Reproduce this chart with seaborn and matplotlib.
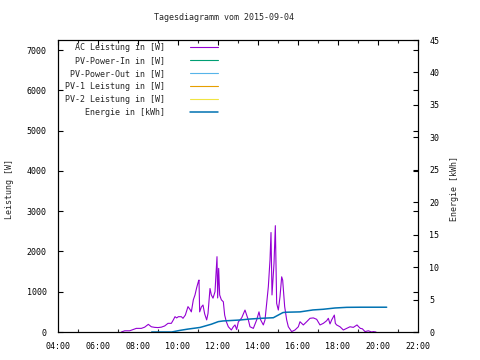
import matplotlib
matplotlib.use("Agg")
import matplotlib.pyplot as plt
import seaborn as sns
import pandas as pd
import numpy as np
from matplotlib.ticker import MultipleLocator, FixedLocator

# ---------------- data ----------------
ac_times = ["07:10", "07:20", "07:35", "07:45", "07:55", "08:10", "08:20", "08:31", "08:40", "08:50",
            "09:00", "09:10", "09:20", "09:30", "09:40", "09:46", "09:51", "09:56", "10:01", "10:10",
            "10:15", "10:22", "10:30", "10:36", "10:40", "10:46", "10:51", "10:56", "11:01", "11:03",
            "11:05", "11:10", "11:15", "11:20", "11:26", "11:30", "11:36", "11:40", "11:45", "11:51",
            "11:57", "11:59", "12:02", "12:05", "12:10", "12:16", "12:20", "12:25", "12:31", "12:40",
            "12:46", "12:51", "12:56", "13:01", "13:06", "13:11", "13:21", "13:26", "13:31", "13:36",
            "13:46", "13:56", "14:03", "14:08", "14:16", "14:21", "14:26", "14:31", "14:36", "14:39",
            "14:42", "14:48", "14:52", "14:56", "15:01", "15:06", "15:11", "15:14", "15:20", "15:26",
            "15:31", "15:41", "15:51", "16:01", "16:06", "16:16", "16:26", "16:36", "16:46", "16:56",
            "17:06", "17:16", "17:26", "17:31", "17:36", "17:41", "17:49", "17:52", "17:56", "18:06",
            "18:16", "18:26", "18:36", "18:46", "18:57", "19:02", "19:07", "19:13", "19:21", "19:31",
            "19:41", "19:46", "19:54"]
ac_watts = [0, 30, 30, 60, 90, 90, 120, 190, 130, 115,
            110, 120, 150, 215, 215, 300, 380, 350, 380, 380,
            340, 420, 630, 560, 500, 800, 920, 1100, 1250, 1290,
            500, 620, 670, 450, 300, 460, 1080, 920, 840, 1000,
            1870, 845, 1580, 920, 800, 750, 420, 255, 130, 50,
            130, 175, 60, 250, 300, 350, 545, 420, 300, 130,
            90, 300, 500, 300, 175, 300, 710, 1125, 1790, 2470,
            920, 1700, 2640, 710, 545, 875, 1370, 1290, 630, 300,
            130, 10, 50, 130, 255, 175, 255, 340, 350, 315,
            175, 215, 280, 340, 200, 300, 420, 215, 175, 130,
            50, 90, 130, 115, 175, 130, 90, 80, 10, 30,
            0, 10, 0]

energy_times = ["08:41", "09:41", "10:06", "10:30", "11:06", "11:40", "12:01", "12:15", "13:06", "13:36",
                "14:06", "14:46", "15:15", "15:26", "16:06", "16:45", "17:15", "17:51", "18:26", "19:10",
                "20:26"]
energy_kwh = [0.0, 0.0, 0.25, 0.45, 0.7, 1.2, 1.6, 1.7, 1.85, 2.0,
              2.1, 2.2, 3.0, 3.05, 3.1, 3.4, 3.5, 3.7, 3.8, 3.82,
              3.82]

legend_labels = ["AC Leistung in [W]", "PV-Power-In in [W]", "PV-Power-Out in [W]",
                 "PV-1 Leistung in [W]", "PV-2 Leistung in [W]", "Energie in [kWh]"]
legend_colors = ["#9400D3", "#009E73", "#56B4E9", "#E69F00", "#F0E442", "#0072B2"]

x_tick_hours = [4, 6, 8, 10, 12, 14, 16, 18, 20, 22]
x_tick_labels = ["04:00", "06:00", "08:00", "10:00", "12:00", "14:00", "16:00", "18:00", "20:00", "22:00"]
left_ticks = [0, 1000, 2000, 3000, 4000, 5000, 6000, 7000]
right_ticks = [0, 5, 10, 15, 20, 25, 30, 35, 40, 45]


def to_hours(ts):
    return [int(t[:2]) + int(t[3:]) / 60.0 for t in ts]


ac_df = pd.DataFrame({"t": to_hours(ac_times), "w": ac_watts})
en_df = pd.DataFrame({"t": to_hours(energy_times), "e": energy_kwh})

# ---------------- style ----------------
sns.set_theme(style="white")
plt.rcParams["font.family"] = ["DejaVu Sans Mono", "DejaVu Sans"]
plt.rcParams["font.size"] = 6
plt.rcParams["axes.linewidth"] = 0.8

fig = plt.figure(figsize=(4.8, 3.6), dpi=100)
ax = fig.add_axes([58 / 480, 28 / 360, 360 / 480, 292 / 360])
ax2 = ax.twinx()

sns.lineplot(data=ac_df, x="t", y="w", ax=ax, color=legend_colors[0], linewidth=0.8,
             estimator=None, sort=False, label=legend_labels[0], legend=False)
handles = [ax.lines[-1]]
for lab, col in zip(legend_labels[1:5], legend_colors[1:5]):
    h, = ax.plot([], [], color=col, linewidth=0.8, label=lab)
    handles.append(h)
sns.lineplot(data=en_df, x="t", y="e", ax=ax2, color=legend_colors[5], linewidth=1.1,
             estimator=None, sort=False, label=legend_labels[5], legend=False)
handles.append(ax2.lines[-1])

ax.set_xlim(4, 22)
ax.set_ylim(0, 7250)
ax2.set_ylim(0, 45)

ax.xaxis.set_major_locator(FixedLocator(x_tick_hours))
ax.set_xticklabels(x_tick_labels)
ax.xaxis.set_minor_locator(MultipleLocator(1))
ax.yaxis.set_major_locator(FixedLocator(left_ticks))
ax.set_yticklabels([str(v) for v in left_ticks])
ax2.yaxis.set_major_locator(FixedLocator(right_ticks))
ax2.set_yticklabels([str(v) for v in right_ticks])

ax.tick_params(axis="both", which="major", direction="in", length=3.5, width=0.8,
               top=True, right=True, labelright=False, colors="black", labelsize=6)
ax.tick_params(axis="x", which="major", pad=7)
ax.tick_params(axis="y", which="major", pad=8)
ax.tick_params(axis="x", which="minor", direction="in", length=2, width=0.8, top=True, bottom=True)
ax2.tick_params(axis="y", which="major", direction="in", length=3.5, width=0.8,
                labelsize=6, pad=8, colors="black")

for a in (ax, ax2):
    for s in a.spines.values():
        s.set_visible(True)
        s.set_color("black")
        s.set_linewidth(0.8)

ax.set_xlabel("")
ax.set_ylabel("Leistung [W]", fontsize=6)
ax.yaxis.set_label_coords(-0.122, 0.49)
ax2.set_ylabel("Energie [kWh]", fontsize=6)
ax2.yaxis.set_label_coords(1.088, 0.49)

fig.text(224 / 480, 1 - 18 / 360, "Tagesdiagramm vom 2015-09-04", ha="center", va="center", fontsize=6)

leg = ax.legend(handles, legend_labels, loc="upper right", bbox_to_anchor=(218 / 480, 1 - 43 / 360),
                bbox_transform=fig.transFigure, frameon=False, markerfirst=False,
                handlelength=3.4, handletextpad=3.0, labelspacing=0.49, borderpad=0,
                borderaxespad=0, fontsize=6)

fig.savefig("out.png", dpi=100, facecolor="white")
